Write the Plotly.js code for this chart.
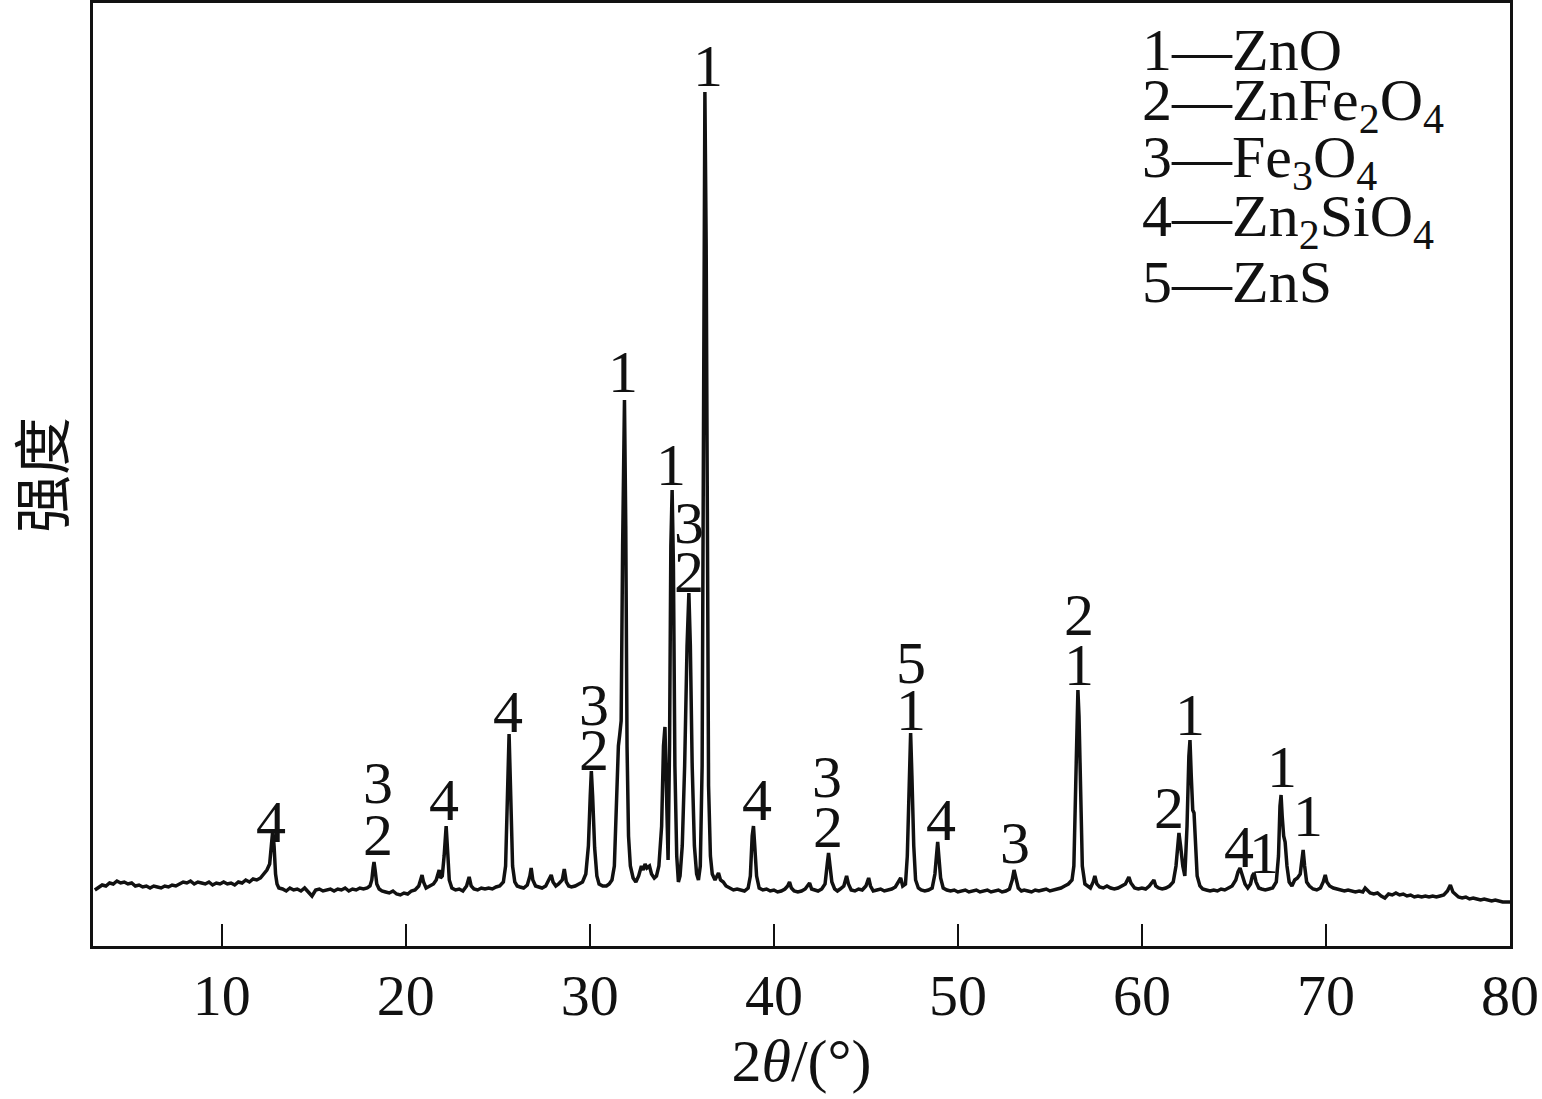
<!DOCTYPE html>
<html><head><meta charset="utf-8">
<script src="https://cdn.plot.ly/plotly-3.0.1.min.js"></script>
<style>html,body{margin:0;padding:0;background:#fff;}</style>
</head><body>
<div id="chart" style="width:1542px;height:1099px;"></div>
<script>
// 2θ (degrees) of the scan points
const twoTheta = [
  3.1,3.3,3.5,3.7,3.9,4.1,4.3,4.5,4.7,4.9,
  5.1,5.3,5.5,5.7,5.9,6.1,6.3,6.5,6.7,6.9,
  7.1,7.3,7.5,7.7,7.9,8.1,8.3,8.5,8.7,8.9,
  9.1,9.3,9.5,9.7,9.9,10.1,10.3,10.5,10.7,10.9,
  11.1,11.3,11.5,11.7,11.9,
  12.1,12.3,12.45,12.6,12.7,12.77,12.84,12.92,13.0,13.1,
  13.3,13.5,13.7,13.9,14.1,14.3,14.5,14.7,14.9,15.1,
  15.3,15.5,15.7,15.9,16.1,16.3,16.5,16.7,16.9,17.1,
  17.3,17.5,17.7,17.9,18.05,
  18.15,18.22,18.27,18.33,18.42,18.55,18.7,18.9,19.1,19.3,
  19.5,19.7,19.9,20.1,20.3,20.5,20.7,
  20.8,20.88,20.96,21.1,21.3,21.5,21.65,21.75,21.81,21.88,
  21.98,22.08,22.19,22.28,22.36,22.5,22.7,22.9,23.1,23.3,
  23.44,23.55,23.7,23.9,24.1,24.3,24.5,24.7,24.9,
  25.1,25.3,25.42,25.52,25.61,25.7,25.8,25.92,26.05,26.2,
  26.4,26.6,26.74,26.81,26.9,27.05,27.2,27.4,27.6,27.78,
  27.9,28.0,28.15,28.3,28.5,28.61,28.72,28.85,29.0,29.2,
  29.4,29.6,
  29.78,29.92,30.02,30.08,30.15,30.26,30.38,30.5,30.7,30.9,
  31.05,31.2,31.33,31.45,31.55,31.62,31.7,31.78,31.88,31.95,
  32.02,32.1,32.2,32.35,32.5,32.65,32.8,32.9,33.0,33.1,
  33.24,33.35,33.5,33.62,33.75,
  33.9,34.0,34.08,34.16,34.25,34.33,34.4,34.47,34.54,34.62,
  34.72,34.81,34.9,35.02,35.15,35.28,35.38,35.46,35.56,35.68,
  35.8,35.9,36.0,36.1,36.18,36.25,36.32,36.38,36.45,36.55,
  36.65,36.8,36.9,36.99,
  37.1,37.25,37.4,37.6,37.8,38.0,38.2,38.4,38.6,38.72,
  38.82,38.89,38.96,39.06,39.2,39.4,39.6,39.8,40.0,40.2,
  40.4,40.6,40.75,40.85,40.95,41.1,41.3,41.5,41.7,41.85,
  41.94,42.05,42.2,42.4,42.6,
  42.78,42.9,42.97,43.05,43.15,43.3,43.45,43.6,43.8,43.95,
  44.05,44.2,44.4,44.6,44.8,45.0,45.15,45.25,45.4,45.6,
  45.8,46.0,46.2,46.4,46.6,
  46.75,46.89,47.0,47.15,47.25,47.35,47.43,47.5,47.6,47.7,
  47.85,48.0,48.2,48.4,48.6,48.75,48.84,48.9,48.97,49.06,
  49.2,49.4,49.6,49.8,50.0,50.2,50.4,50.6,50.8,51.0,
  51.2,51.4,51.6,51.8,52.0,52.2,52.4,52.6,52.8,
  52.95,53.05,53.15,53.28,53.45,53.6,53.8,54.0,54.2,54.4,
  54.6,54.8,55.0,55.2,55.4,55.6,55.8,56.0,56.2,
  56.3,56.4,56.46,56.52,56.58,56.66,56.76,56.9,57.05,57.2,
  57.35,57.44,57.55,57.7,57.9,58.1,58.3,58.5,58.7,58.9,
  59.1,59.29,59.4,59.6,59.8,60.0,60.2,60.4,60.55,60.65,
  60.75,60.9,61.1,61.3,61.5,61.7,
  61.85,61.95,62.01,62.1,62.22,62.33,62.45,62.55,62.61,62.68,
  62.76,62.83,62.9,63.0,63.15,63.3,63.5,63.7,63.9,64.1,
  64.3,64.5,64.7,64.9,65.1,65.22,65.33,65.45,65.6,65.75,
  65.9,66.0,66.09,66.2,66.35,66.5,66.7,66.9,
  67.1,67.3,67.42,67.5,67.56,67.62,67.7,67.78,67.88,68.0,
  68.15,68.3,68.45,68.6,68.7,68.76,68.84,68.95,69.1,69.3,
  69.5,69.7,69.85,69.96,70.05,70.2,70.4,70.6,70.8,71.0,
  71.2,71.4,71.6,71.8,72.0,72.13,72.25,72.4,72.6,72.8,
  73.0,73.2,73.4,73.6,73.8,74.0,74.2,74.4,74.6,74.8,
  75.0,75.2,75.4,75.6,75.8,76.0,76.2,76.4,76.6,76.76,
  76.9,77.05,77.2,77.4,77.6,77.8,78.0,78.2,78.4,78.6,
  78.8,79.0,79.2,79.4,79.6,79.8,80.0
];
// intensity (arbitrary units) at each scan point
const intensity = [
  56,59,61,60,63,62,65,63,64,62,
  63,60,61,59,60,58,60,59,58,60,
  59,61,60,62,64,63,65,62,64,63,
  62,64,61,63,62,64,62,63,61,64,
  63,66,64,67,66,
  68,72,76,82,104,116,100,72,62,58,
  57,55,58,56,57,55,58,54,50,56,
  57,55,56,57,55,57,56,58,55,57,
  56,58,57,58,60,
  66,78,84,76,62,57,55,54,53,55,
  52,51,53,52,55,56,60,
  66,71,64,58,60,62,66,74,76,68,
  70,90,120,92,66,58,56,57,55,60,
  69,60,57,56,58,57,58,57,59,
  60,64,80,150,212,150,80,64,60,59,
  58,61,70,78,66,60,59,58,60,66,
  71,64,60,62,66,77,64,60,59,60,
  62,64,
  72,100,150,175,150,98,70,62,60,60,
  62,66,80,140,200,211,225,400,546,420,
  200,110,80,68,64,70,80,76,82,78,
  80,72,68,70,80,
  120,200,219,170,86,200,400,456,380,180,
  90,64,70,100,180,300,353,300,180,100,
  72,66,80,180,500,854,700,400,160,90,
  72,66,70,73,
  66,64,60,58,56,57,56,55,58,70,
  110,120,100,70,58,56,57,55,56,54,
  55,57,60,64,58,55,54,55,57,60,
  63,57,56,55,57,
  62,82,93,80,64,57,55,57,60,70,
  62,56,55,57,56,60,68,60,55,56,
  57,55,56,57,59,
  63,68,60,62,90,160,213,170,100,66,
  58,56,55,56,58,72,100,104,88,68,
  58,56,55,56,54,55,56,54,55,56,
  54,55,56,54,55,56,54,55,57,
  66,76,68,58,55,56,55,54,56,55,
  56,57,55,56,57,58,60,62,66,
  80,160,230,256,230,150,80,62,60,58,
  64,70,62,59,58,60,58,57,58,60,
  62,69,63,58,57,58,57,60,64,66,
  60,58,57,58,60,64,
  80,108,113,100,80,70,120,190,206,170,
  136,133,100,70,60,57,56,55,56,55,
  57,56,58,60,66,74,78,70,62,58,
  62,70,73,64,58,57,56,57,
  58,64,90,140,151,130,110,104,80,64,
  60,66,68,72,92,96,80,64,60,57,
  56,58,64,71,64,60,58,57,56,55,
  56,55,54,55,54,58,56,53,52,53,
  50,48,52,51,53,51,52,50,51,49,
  50,49,50,49,50,49,50,51,55,61,
  54,51,49,48,49,47,48,47,46,47,
  46,45,46,45,44,44,44
];
// phase-number labels above the peaks
const peakLabelTheta = [12.67,18.5,18.5,22.1,25.55,30.22,30.22,31.8,34.4,35.4,35.4,36.42,39.1,42.9,42.95,47.45,47.45,49.1,53.1,56.6,56.6,61.45,62.6,65.3,66.65,67.6,69.05];
const peakLabelIntensity = [124,163,111,146,234,241,196,574,481,423,374,880,146,169,119,283,236,126,103,331,281,138,231,99,93,179,130];
const peakLabelText = ["4","3","2","4","4","3","2","1","1","3","2","1","4","3","2","5","1","4","3","2","1","2","1","4","1","1","1"];
// phase key
const legendLines = ["1—ZnO","2—ZnFe<sub>2</sub>O<sub>4</sub>","3—Fe<sub>3</sub>O<sub>4</sub>","4—Zn<sub>2</sub>SiO<sub>4</sub>","5—ZnS"];
const legendY = [0.950,0.892,0.832,0.769,0.704];
const xTicks = [10,20,30,40,50,60,70,80];
const yTitle = "强度";

const serif = "Liberation Serif, 'Times New Roman', serif";
const ink = "#111111";

const annotations = [];
for (let i = 0; i < peakLabelText.length; i++) {
  annotations.push({x: peakLabelTheta[i], y: peakLabelIntensity[i], xref:'x', yref:'y',
    text: peakLabelText[i], showarrow:false, xanchor:'center', yanchor:'middle',
    font:{family:serif, size:60, color:ink}});
}
for (let i = 0; i < legendLines.length; i++) {
  annotations.push({x: 0.739, y: legendY[i], xref:'paper', yref:'paper',
    text: legendLines[i], showarrow:false, xanchor:'left', yanchor:'middle',
    font:{family:serif, size:60, color:ink}});
}
// y-axis title (rotated, reads bottom to top)
annotations.push({x: -0.0385, y: 0.5, xref:'paper', yref:'paper', text: yTitle,
  showarrow:false, textangle:-90, xanchor:'center', yanchor:'middle', borderpad:0,
  font:{family:"'Noto Sans CJK SC', sans-serif", size:58, color:ink}});

const trace = {x: twoTheta, y: intensity, type:'scatter', mode:'lines',
  line:{color:ink, width:3.5}, hoverinfo:'skip'};

const layout = {
  width:1542, height:1099,
  margin:{l:93, r:32, t:3, b:153, pad:0},
  paper_bgcolor:'#ffffff', plot_bgcolor:'#ffffff',
  showlegend:false,
  xaxis:{range:[3,80], tickvals:xTicks, ticktext:xTicks.map(String),
    ticks:'inside', ticklen:22, tickwidth:2.5, tickcolor:ink,
    showline:true, linewidth:3, linecolor:ink, mirror:true,
    showgrid:false, zeroline:false, ticklabelstandoff:-4,
    tickfont:{family:serif, size:58, color:ink},
    title:{text:'2<i>θ</i>/(°)', font:{family:serif, size:60, color:ink}, standoff:10}},
  yaxis:{range:[0,943], showticklabels:false, ticks:'',
    showline:true, linewidth:3, linecolor:ink, mirror:true,
    showgrid:false, zeroline:false},
  annotations: annotations
};

Plotly.newPlot('chart', [trace], layout, {displayModeBar:false, staticPlot:true});
</script>
</body></html>
